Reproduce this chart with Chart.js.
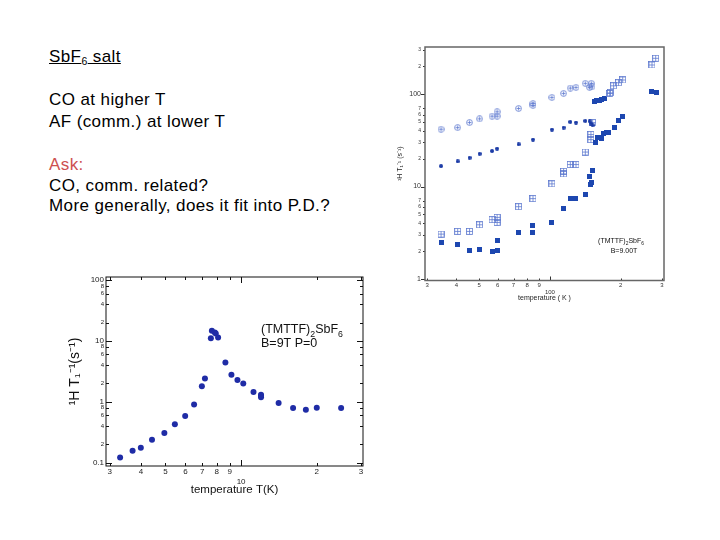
<!DOCTYPE html>
<html><head><meta charset="utf-8">
<script src="https://cdn.jsdelivr.net/npm/chart.js@4/dist/chart.umd.min.js"></script>
<style>
body{margin:0;width:720px;height:540px;background:#fff;position:relative;overflow:hidden;font-family:"Liberation Sans",Arial,sans-serif;}
.t{position:absolute;left:49px;font-size:17px;letter-spacing:0.4px;color:#000;white-space:nowrap;line-height:20px;}
.t sub{font-size:10.5px;vertical-align:-3px;line-height:0;}
#c1{position:absolute;left:390px;top:40px;}
#c2{position:absolute;left:55px;top:265px;}
</style></head><body>
<div class="t" style="top:47px;text-decoration:underline">SbF<sub>6</sub> salt</div>
<div class="t" style="top:89.5px">CO at higher T</div>
<div class="t" style="top:111.5px">AF (comm.) at lower T</div>
<div class="t" style="top:155px;color:#cd5050">Ask:</div>
<div class="t" style="top:176px">CO, comm. related?</div>
<div class="t" style="top:196px">More generally, does it fit into P.D.?</div>
<canvas id="c1" width="285" height="265"></canvas>
<canvas id="c2" width="320" height="235"></canvas>
<script>
// ---------- Top-right chart data (temperature K, 1/T1 s^-1) ----------
const upperOpenT = [34.4,40.5,45.5,50.2,56.7,59.6,59.6,73.6,84.7,84.7,102,114.4,122.1,129.1,141.5,147.6,150,151];
const upperOpenV = [41.7,43.4,49.2,54.0,57.7,57.7,64.3,69.9,75.3,79.2,92.0,101.7,116,118,130.6,118,130.6,120];
const upperOpenSqT = [179.6,181,186.7,196,204,272,282];
const upperOpenSqV = [101.7,103,123,132.8,142,206.6,244];
const upperFilledSqT = [154.5,158.6,162.8,166.6,170.4,272,284];
const upperFilledSqV = [83.9,84.6,86.1,87.5,89.7,106,105];
const midFilledT = [34.4,40.5,45.5,50.2,56.7,59.6,73.6,84.7,102,114.4,122.1,129.1,141.5,147.6,149.5,152];
const midFilledV = [16.6,18.7,20.5,22.6,24.2,25.7,28.6,32.2,41.3,43.4,50.0,49.2,51.3,50.9,48.0,46.0];
const midFilledSqT = [156,159.6,163.9,165.5,169.3,173.8,177.8,188,196,204];
const midFilledSqV = [30.3,33.6,33.6,33.0,37.4,38.3,38.3,43.4,51.3,56.6];
const lowOpenT = [34.4,40.5,45.5,50.2,56.7,59.6,59.6,73.6,84.7,102,114.4,114.4,122.1,129.1,141.5,149.5,149.5,152];
const lowOpenV = [3.06,3.27,3.27,3.86,4.38,4.64,4.09,6.06,7.41,10.7,14.6,13.7,17.3,17.3,23.6,36.5,32.2,49.2];
const lowFilledT = [34.4,40.5,45.5,50.2,56.7,59.6,59.6,73.6,84.7,84.7,102,114.4,122.1,129.1,141.5,147.6,149.5,151,152];
const lowFilledV = [2.5,2.36,2.02,2.10,1.98,2.03,2.63,3.19,3.19,3.77,4.09,5.77,7.35,7.35,8.19,12.8,10.5,11.0,14.9];
const topXTicks = [30,40,50,60,70,80,90,100,200,300];
const topXLabels = ['3','4','5','6','7','8','9',['','100'],'2','3'];
const topYTicks = [1,2,3,4,5,6,7,10,20,30,40,50,60,70,100,200,300];
const topYLabels = ['1','2','3','4','5','6','7','10','2','3','4','5','6','7','100','2','3'];

// ---------- Bottom-left chart data ----------
const lowTemp = [3.30,3.70,3.99,4.42,4.95,5.45,5.99,6.50,6.98,7.18,7.58,7.65,7.86,7.93,8.10,8.66,9.15,9.67,10.2,11.2,12.0,12.0,12.0,14.1,16.1,18.1,20.0,25.0];
const lowRate = [0.121,0.156,0.176,0.238,0.308,0.428,0.583,0.90,1.79,2.42,11.0,14.6,13.7,13.2,11.4,4.41,2.78,2.28,2.0,1.45,1.30,1.19,1.25,0.95,0.787,0.741,0.80,0.787];
const botXTicks = [3,4,5,6,7,8,9,10,20,30];
const botXLabels = ['3','4','5','6','7','8','9',['','10'],'2','3'];
const botYTicks = [0.1,0.2,0.4,0.6,0.8,1,2,4,6,8,10,20,40,60,80,100];
const botYLabels = ['0.1','2','4','6','8','1','2','4','6','8','10','2','4','6','8','100'];

const FONT = '"Liberation Sans", Arial, sans-serif';
const pts = (xs, ys) => xs.map((x, i) => ({x, y: ys[i]}));
const isDecade = v => Math.abs(Math.log10(v) - Math.round(Math.log10(v))) < 1e-6;

function marker(kind, color, size) {
  const c = document.createElement('canvas'); c.width = c.height = size;
  const g = c.getContext('2d'); g.strokeStyle = color; g.fillStyle = color; g.lineWidth = 0.8;
  const h = size / 2;
  if (kind === 'circCross') { g.beginPath(); g.arc(h, h, h - 0.6, 0, Math.PI * 2); g.stroke(); g.beginPath(); g.moveTo(h, 1.5); g.lineTo(h, size - 1.5); g.moveTo(1.5, h); g.lineTo(size - 1.5, h); g.stroke(); }
  if (kind === 'sqCross') { g.strokeRect(0.5, 0.5, size - 1, size - 1); g.beginPath(); g.moveTo(h, 0.5); g.lineTo(h, size - 0.5); g.moveTo(0.5, h); g.lineTo(size - 0.5, h); g.stroke(); }
  if (kind === 'sq') { g.fillRect(0, 0, size, size); }
  if (kind === 'circ') { g.beginPath(); g.arc(h, h, h, 0, Math.PI * 2); g.fill(); }
  return c;
}

const framePlugin = {
  id: 'frame',
  afterDatasetsDraw(chart, args, o) {
    const {ctx, chartArea: a, scales} = chart;
    ctx.save();
    ctx.strokeStyle = o.tickColor; ctx.lineWidth = 1;
    const line = (x1, y1, x2, y2) => { ctx.beginPath(); ctx.moveTo(x1, y1); ctx.lineTo(x2, y2); ctx.stroke(); };
    scales.x.ticks.forEach(t => {
      const p = Math.round(scales.x.getPixelForValue(t.value)) + 0.5;
      const L = isDecade(t.value) ? o.major : o.minor;
      line(p, a.bottom, p, a.bottom - L);
      if (o.all) line(p, a.top, p, a.top + L);
    });
    scales.y.ticks.forEach(t => {
      const p = Math.round(scales.y.getPixelForValue(t.value)) + 0.5;
      const L = isDecade(t.value) ? o.major : o.minor;
      line(a.left, p, a.left + (o.outY ? -L : L), p);
      if (o.all) line(a.right, p, a.right - L, p);
    });
    ctx.strokeStyle = o.color; ctx.lineWidth = o.width;
    ctx.strokeRect(a.left, a.top, a.right - a.left, a.bottom - a.top);
    (o.notes || []).forEach(n => {
      ctx.fillStyle = '#111';
      const segs = n.segs;
      let w = 0;
      segs.forEach(s => { ctx.font = (s.sub ? n.size * 0.7 : n.size) + 'px ' + FONT; w += ctx.measureText(s.t).width; });
      let x = a.left + n.dx - (n.center ? w / 2 : 0);
      const y = a.top + n.dy;
      ctx.textBaseline = 'alphabetic'; ctx.textAlign = 'left';
      segs.forEach(s => {
        ctx.font = (s.sub ? n.size * 0.7 : n.size) + 'px ' + FONT;
        ctx.fillText(s.t, x, y + (s.sub ? n.size * 0.3 : 0));
        x += ctx.measureText(s.t).width;
      });
    });
    ctx.restore();
  }
};

const light = '#5d78cf', dark = '#1d47b0', darkC = '#1a3aa6';
const mkOpenC = marker('circCross', light, 7);
const mkOpenS = marker('sqCross', light, 7);
const mkSq = marker('sq', dark, 5);
const mkCirc = marker('circ', darkC, 4);

const ds = (label, xs, ys, style) => ({label, data: pts(xs, ys), pointStyle: style, pointRadius: 3, showLine: false, backgroundColor: dark, borderColor: dark});

new Chart(document.getElementById('c1'), {
  type: 'scatter',
  data: {datasets: [
    ds('upper open', upperOpenT, upperOpenV, mkOpenC),
    ds('upper open sq', upperOpenSqT, upperOpenSqV, mkOpenS),
    ds('upper filled sq', upperFilledSqT, upperFilledSqV, mkSq),
    ds('mid filled', midFilledT, midFilledV, mkCirc),
    ds('mid filled sq', midFilledSqT, midFilledSqV, mkSq),
    ds('low open', lowOpenT, lowOpenV, mkOpenS),
    ds('low filled', lowFilledT, lowFilledV, mkSq)
  ]},
  options: {
    responsive: false, animation: false, devicePixelRatio: 1,
    layout: {padding: {left: 0, right: 11, top: 7, bottom: 0}},
    plugins: {legend: {display: false}, tooltip: {enabled: false},
      frame: {color: '#666', width: 1.5, tickColor: '#333', major: 4, minor: 2, outY: true, all: false,
        notes: [
          {segs: [{t: '(TMTTF)'}, {t: '2', sub: true}, {t: 'SbF'}, {t: '6', sub: true}], dx: 196, dy: 196, size: 7, center: true},
          {segs: [{t: 'B=9.00T'}], dx: 199, dy: 206, size: 7, center: true}
        ]}},
    scales: {
      x: {type: 'logarithmic', min: 29.4, max: 306,
        afterBuildTicks: s => { s.ticks = topXTicks.map(v => ({value: v})); },
        afterFit: s => { s.height = 24.5; },
        ticks: {callback: (v, i) => topXLabels[i], autoSkip: false, maxRotation: 0, padding: 1, color: '#333', font: {size: 6, family: FONT}},
        grid: {display: false, drawTicks: false}, border: {display: false},
        title: {display: true, text: 'temperature ( K )', color: '#222', font: {size: 7, family: FONT}, padding: {top: 0, bottom: 3}}},
      y: {type: 'logarithmic', min: 0.963, max: 323,
        afterBuildTicks: s => { s.ticks = topYTicks.map(v => ({value: v})); },
        afterFit: s => { s.width = 35; },
        ticks: {callback: (v, i) => topYLabels[i], autoSkip: false, padding: 4, color: '#333',
          font: c => ({size: (c.tick && isDecade(c.tick.value)) ? 7 : 5, family: FONT})},
        grid: {display: false, drawTicks: false}, border: {display: false},
        title: {display: true, text: '¹H T₁⁻¹ (s⁻¹)', color: '#222', font: {size: 7, family: FONT}, padding: {top: 6, bottom: 0}}}
    }
  },
  plugins: [framePlugin]
});

new Chart(document.getElementById('c2'), {
  type: 'scatter',
  data: {datasets: [{label: '(TMTTF)2SbF6', data: pts(lowTemp, lowRate), pointStyle: 'circle', pointRadius: 3, backgroundColor: '#1f2ca6', borderColor: '#1f2ca6', borderWidth: 0}]},
  options: {
    responsive: false, animation: false, devicePixelRatio: 1,
    layout: {padding: {left: 0, right: 12, top: 12, bottom: 0}},
    plugins: {legend: {display: false}, tooltip: {enabled: false},
      frame: {color: '#111', width: 1, tickColor: '#111', major: 6, minor: 3, outY: false, all: true,
        notes: [
          {segs: [{t: '(TMTTF)'}, {t: '2', sub: true}, {t: 'SbF'}, {t: '6', sub: true}], dx: 155, dy: 56, size: 12.5},
          {segs: [{t: 'B=9T P=0'}], dx: 155, dy: 70, size: 12.5}
        ]}},
    scales: {
      x: {type: 'logarithmic', min: 2.9, max: 30.55,
        afterBuildTicks: s => { s.ticks = botXTicks.map(v => ({value: v})); },
        afterFit: s => { s.height = 34; },
        ticks: {callback: (v, i) => botXLabels[i], autoSkip: false, maxRotation: 0, padding: 1, color: '#222', font: {size: 8, family: FONT}},
        grid: {display: false, drawTicks: false}, border: {display: false},
        title: {display: true, text: 'temperature T(K)', color: '#111', font: {size: 11.5, family: FONT}, padding: {top: 0, bottom: 3}}},
      y: {type: 'logarithmic', min: 0.088, max: 112,
        afterBuildTicks: s => { s.ticks = botYTicks.map(v => ({value: v})); },
        afterFit: s => { s.width = 51; },
        ticks: {callback: (v, i) => botYLabels[i], autoSkip: false, padding: 2, color: '#222',
          font: c => ({size: (c.tick && isDecade(c.tick.value)) ? 8 : 6, family: FONT})},
        grid: {display: false, drawTicks: false}, border: {display: false},
        title: {display: true, text: '¹H T₁⁻¹(s⁻¹)', color: '#111', font: {size: 14, family: FONT}, padding: {top: 12, bottom: 0}}}
    }
  },
  plugins: [framePlugin]
});
</script>
</body></html>
